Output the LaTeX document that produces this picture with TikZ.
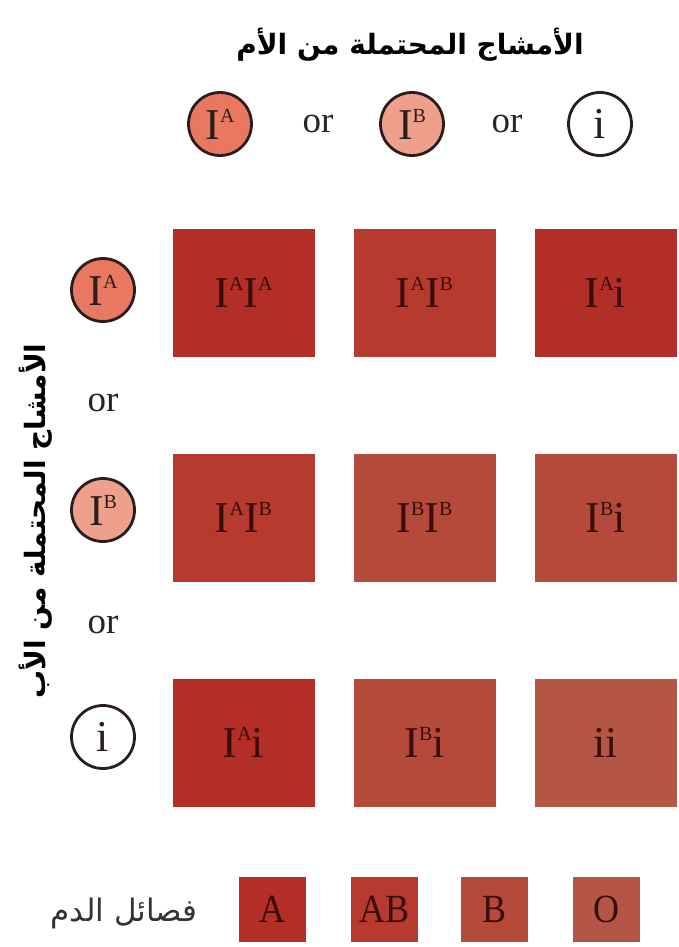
\documentclass[tikz,border=0pt]{standalone}
\usepackage{fontspec}
\setmainfont{Liberation Serif}
\newfontfamily\arabicfont[Script=Arabic]{DejaVu Sans}
\newfontfamily\narrowserif[FakeStretch=0.9]{Liberation Serif}
\TeXXeTstate=1
\usetikzlibrary{matrix}

\definecolor{typeA}{HTML}{B22E26}
\definecolor{typeAB}{HTML}{B73A2E}
\definecolor{typeB}{HTML}{B54A3A}
\definecolor{typeO}{HTML}{B45545}
\definecolor{alleleA}{HTML}{E8785F}
\definecolor{alleleB}{HTML}{EFA08C}
\definecolor{inkdark}{HTML}{3A0C0A}
\definecolor{ringline}{HTML}{2A1E1C}

\newcommand{\allele}[1]{I\raisebox{17pt}{\fontsize{20}{20}\selectfont #1}}

\tikzset{
  gamete/.style={draw=ringline,line width=2.8pt,circle,minimum size=63pt,inner sep=0pt,
    text=ringline,font=\fontsize{44}{48}\selectfont},
  ortext/.style={font=\fontsize{37}{40}\selectfont,text=black!85},
  legendbox/.style={minimum width=67pt,minimum height=65pt,inner sep=0pt,
    text=inkdark,font=\narrowserif\fontsize{40}{44}\selectfont},
  arlabel/.style={font=\arabicfont\bfseries\fontsize{28}{32}\selectfont}
}

\begin{document}
\begin{tikzpicture}[x=1pt,y=-1pt]
\useasboundingbox (0,0) rectangle (679,947);

% gametes from the mother
\node[arlabel] (mtitle) at (410,45) {\beginR الأمشاج المحتملة من الأم\endR};
\node[gamete,fill=alleleA] (mA) at (220,124) {\allele{A}};
\node[ortext] (mor1) at (318,124) {or};
\node[gamete,fill=alleleB] (mB) at (412,124) {\allele{B}};
\node[ortext] (mor2) at (507,124) {or};
\node[gamete,fill=white] (mi) at (600,124) {i};

% gametes from the father
\node[arlabel,rotate=90] (ftitle) at (36,521) {\beginR الأمشاج المحتملة من الأب\endR};
\node[gamete,fill=alleleA] (fA) at (103,290) {\allele{A}};
\node[ortext] (for1) at (103,403) {or};
\node[gamete,fill=alleleB] (fB) at (103,510) {\allele{B}};
\node[ortext] (for2) at (103,625) {or};
\node[gamete,fill=white] (fi) at (103,737) {i};

% offspring genotypes
\matrix (grid) at (424.5,517.5) [matrix of nodes,
  nodes={minimum width=142pt,minimum height=128pt,inner sep=0pt,anchor=center,
    text=inkdark,font=\fontsize{44}{48}\selectfont},
  row sep=97pt,column sep=39pt] {
  |[fill=typeA]| \allele{A}\allele{A} & |[fill=typeAB]| \allele{A}\allele{B} & |[fill=typeA]| \allele{A}i \\
  |[fill=typeAB]| \allele{A}\allele{B} & |[fill=typeB]| \allele{B}\allele{B} & |[fill=typeB]| \allele{B}i \\
  |[fill=typeA]| \allele{A}i & |[fill=typeB]| \allele{B}i & |[fill=typeO]| ii \\
};

% legend
\node[font=\arabicfont\fontsize{31}{36}\selectfont,text=black!80] (key) at (124,913) {\beginR فصائل الدم\endR};
\node[legendbox,fill=typeA] (kA) at (272.5,909.5) {A};
\node[legendbox,fill=typeAB] (kAB) at (384.5,909.5) {AB};
\node[legendbox,fill=typeB] (kB) at (494.5,909.5) {B};
\node[legendbox,fill=typeO] (kO) at (606.5,909.5) {O};
\end{tikzpicture}
\end{document}
